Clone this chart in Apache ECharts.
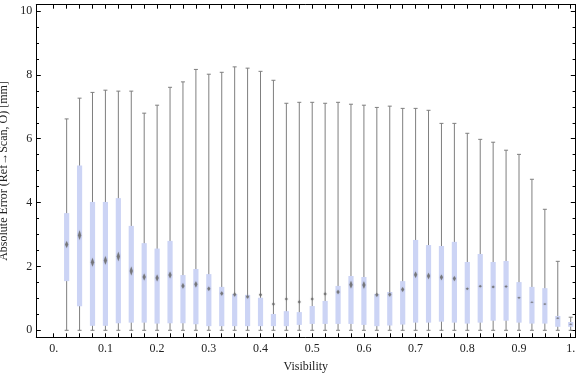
<!DOCTYPE html>
<html><head><meta charset="utf-8">
<script src="https://cdn.jsdelivr.net/npm/echarts@6/dist/echarts.min.js"></script>
<style>html,body{margin:0;padding:0;background:#fff}#c{width:576px;height:377px}</style>
</head><body><div id="c"></div>
<script>
// ---- data ----
const visibility = [0.025,0.05,0.075,0.1,0.125,0.15,0.175,0.2,0.225,0.25,0.275,0.3,0.325,0.35,0.375,0.4,0.425,0.45,0.475,0.5,0.525,0.55,0.575,0.6,0.625,0.65,0.675,0.7,0.725,0.75,0.775,0.8,0.825,0.85,0.875,0.9,0.925,0.95,0.975,1.0];
const whiskerLow = [0,0,0,0,0,0,0,0,0,0,0,0,0,0,0,0,0,0,0,0,0,0,0,0,0,0,0,0,0,0,0,0,0,0,0,0,0,0,0,0];
const q1 = [1.54,0.75,0.14,0.14,0.22,0.24,0.24,0.21,0.22,0.22,0.19,0.13,0.13,0.13,0.13,0.13,0.13,0.13,0.17,0.20,0.20,0.20,0.20,0.17,0.13,0.15,0.18,0.24,0.24,0.27,0.24,0.21,0.24,0.30,0.30,0.24,0.21,0.21,0.11,0.11];
const meanVal = [2.69,2.98,2.13,2.19,2.31,1.86,1.67,1.64,1.73,1.39,1.44,1.30,1.15,1.12,1.05,1.11,0.82,0.98,0.89,0.98,1.14,1.20,1.43,1.42,1.11,1.12,1.28,1.74,1.70,1.66,1.62,1.30,1.38,1.36,1.37,1.02,0.88,0.82,0.38,0.19];
const meanSpread = [0.11,0.15,0.14,0.14,0.15,0.14,0.11,0.11,0.11,0.09,0.10,0.07,0.07,0.07,0.06,0.06,0.05,0.05,0.05,0.05,0.05,0.07,0.12,0.12,0.07,0.07,0.08,0.10,0.10,0.09,0.08,0.04,0.04,0.04,0.04,0.03,0.02,0.02,0.02,0.02];
const q3 = [3.67,5.16,4.02,4.02,4.14,3.27,2.73,2.56,2.80,1.73,1.92,1.76,1.36,1.14,1.11,1.02,0.51,0.60,0.57,0.76,0.92,1.39,1.70,1.67,1.14,1.20,1.54,2.83,2.67,2.64,2.77,2.14,2.39,2.14,2.17,1.51,1.36,1.32,0.45,0.26];
const whiskerHigh = [6.62,7.27,7.45,7.52,7.49,7.49,6.80,7.05,7.61,7.78,8.17,8.02,8.08,8.25,8.21,8.11,7.83,7.11,7.14,7.14,7.11,7.14,7.08,7.05,6.98,7.02,6.95,6.95,6.89,6.48,6.48,6.17,5.98,5.89,5.64,5.51,4.73,3.79,2.16,0.41];
const xTicks = [0,0.025,0.05,0.075,0.1,0.125,0.15,0.175,0.2,0.225,0.25,0.275,0.3,0.325,0.35,0.375,0.4,0.425,0.45,0.475,0.5,0.525,0.55,0.575,0.6,0.625,0.65,0.675,0.7,0.725,0.75,0.775,0.8,0.825,0.85,0.875,0.9,0.925,0.95,0.975,1.0];
const xLabels = [0,0.1,0.2,0.3,0.4,0.5,0.6,0.7,0.8,0.9,1.0];
const yMajor = [0,2,4,6,8,10];
const yMinor = [0.5,1,1.5,2.5,3,3.5,4.5,5,5.5,6.5,7,7.5,8.5,9,9.5];

// ---- chart ----
const FONT = 'Liberation Serif';
const TXT = '#222';
const data = visibility.map((v,i)=>[v, whiskerLow[i], q1[i], meanVal[i], q3[i], whiskerHigh[i], meanSpread[i]]);

function xAx(pos, labels){
  return {
    type:'value', min:-0.0337, max:1.0089, position:pos,
    axisLine:{show:true,onZero:false,lineStyle:{color:'#000',width:1}},
    axisTick:{show:true,inside:true,length:4,customValues:xTicks,lineStyle:{color:'#000',width:1}},
    axisLabel:{show:labels,customValues:xLabels,margin:6,fontFamily:FONT,fontSize:12,color:TXT,
      formatter:v=> (v===0?'0.':(v===1?'1.':String(Math.round(v*10)/10)))},
    splitLine:{show:false},
    name: labels?'Visibility':'', nameLocation:'middle', nameGap:24,
    nameTextStyle:{fontFamily:FONT,fontSize:12,color:TXT}
  };
}
function yAx(pos, vals, len, labels){
  return {
    type:'value', min:-0.219, max:10.197, position:pos,
    axisLine:{show:true,onZero:false,lineStyle:{color:'#000',width:1}},
    axisTick:{show:true,inside:true,length:len,customValues:vals,lineStyle:{color:'#000',width:1}},
    axisLabel:{show:labels,customValues:vals,margin:4,fontFamily:FONT,fontSize:12,color:TXT},
    splitLine:{show:false},
    name: labels?'Absolute Error (Ref\u2192Scan, O) [mm]':'', nameLocation:'middle', nameGap:18,
    nameTextStyle:{fontFamily:FONT,fontSize:12,color:TXT}
  };
}

const BOX_W = 5.2, CAP = 2, DW = 1.6;
const chart = echarts.init(document.getElementById('c'), null, {renderer:'canvas'});
chart.setOption({
  animation:false,
  backgroundColor:'#fff',
  grid:{left:36.3,right:0.7,top:4.7,bottom:39.7,containLabel:false,outerBoundsMode:'none'},
  xAxis:[xAx('bottom',true), xAx('top',false)],
  yAxis:[yAx('left',yMajor,4.5,true), yAx('left',yMinor,2.7,false), yAx('right',yMajor,4.5,false), yAx('right',yMinor,2.7,false)],
  series:[{
    type:'custom', xAxisIndex:0, yAxisIndex:0, clip:false,
    data:data,
    renderItem:function(params, api){
      const x = api.value(0);
      const pLow = api.coord([x, api.value(1)]);
      const pQ1 = api.coord([x, api.value(2)]);
      const pM = api.coord([x, api.value(3)]);
      const pQ3 = api.coord([x, api.value(4)]);
      const pHigh = api.coord([x, api.value(5)]);
      const pMs = api.coord([x, api.value(3)+api.value(6)]);
      const cx = pLow[0];
      const h = Math.max(0.8, pM[1]-pMs[1]);
      const line = {stroke:'#7f7f7f', lineWidth:1};
      return {type:'group', children:[
        {type:'line', shape:{x1:cx,y1:pLow[1],x2:cx,y2:pHigh[1]}, style:line},
        {type:'line', shape:{x1:cx-CAP,y1:pLow[1],x2:cx+CAP,y2:pLow[1]}, style:line},
        {type:'line', shape:{x1:cx-CAP,y1:pHigh[1],x2:cx+CAP,y2:pHigh[1]}, style:line},
        {type:'rect', shape:{x:cx-BOX_W/2,y:pQ3[1],width:BOX_W,height:pQ1[1]-pQ3[1]}, style:{fill:'#ccd4f5'}},
        {type:'polygon', shape:{points:[[cx,pM[1]-h],[cx+DW,pM[1]],[cx,pM[1]+h],[cx-DW,pM[1]]]}, style:{fill:'rgba(105,105,105,0.8)', shadowBlur:1.5, shadowColor:'rgba(110,110,110,0.6)'}}
      ]};
    }
  }]
});
</script></body></html>
